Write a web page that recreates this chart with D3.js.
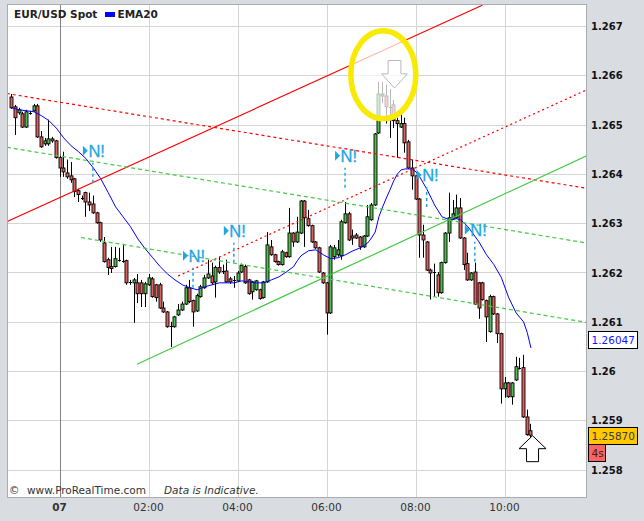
<!DOCTYPE html>
<html><head><meta charset="utf-8">
<script src="https://cdn.jsdelivr.net/npm/d3@7"></script>
<style>body{margin:0;background:#d9dde2}svg{display:block}</style>
</head><body><svg id="c" width="644" height="521"></svg>
<script>
// ---------- DATA ----------
// 5-minute bars, time in minutes relative to 07 00:00 (first bar 22:55 of the previous day)
const firstBarMinute = -65;
const barMinutes = 5;
const open = [1.26556,1.26536,1.26524,1.26522,1.26495,1.26524,1.26528,1.26538,1.26475,1.26461,
1.26461,1.26471,1.26467,1.26433,1.26412,1.26402,1.26396,1.26390,1.26366,1.26351,
1.26362,1.26343,1.26339,1.26321,1.26301,1.26260,1.26226,1.26212,1.26212,1.26226,
1.26224,1.26224,1.26181,1.26179,1.26179,1.26179,1.26157,1.26175,1.26187,1.26175,
1.26175,1.26128,1.26120,1.26092,1.26090,1.26114,1.26124,1.26136,1.26169,1.26143,
1.26122,1.26151,1.26169,1.26189,1.26193,1.26181,1.26210,1.26203,1.26203,1.26187,
1.26185,1.26183,1.26201,1.26212,1.26185,1.26161,1.26165,1.26165,1.26149,1.26181,
1.26252,1.26236,1.26222,1.26216,1.26240,1.26232,1.26280,1.26262,1.26280,1.26345,
1.26309,1.26295,1.26262,1.26250,1.26199,1.26179,1.26118,1.26232,1.26236,1.26234,
1.26301,1.26319,1.26274,1.26276,1.26272,1.26252,1.26274,1.26307,1.26337,1.26483,
1.26558,1.26558,1.26536,1.26540,1.26508,1.26495,1.26502,1.26465,1.26412,1.26396,
1.26349,1.26276,1.26262,1.26205,1.26201,1.26195,1.26159,1.26220,1.26280,1.26309,
1.26311,1.26331,1.26270,1.26218,1.26185,1.26201,1.26179,1.26179,1.26143,1.26080,
1.26151,1.26116,1.26076,1.25964,1.25976,1.25948,1.25982,1.26007,1.26007,1.25907,
1.25879];
const high = [1.26562,1.26540,1.26534,1.26526,1.26530,1.26528,1.26542,1.26542,1.26487,1.26473,
1.26510,1.26475,1.26469,1.26437,1.26445,1.26429,1.26424,1.26392,1.26370,1.26356,
1.26364,1.26362,1.26356,1.26323,1.26303,1.26272,1.26230,1.26252,1.26252,1.26250,
1.26258,1.26226,1.26185,1.26189,1.26197,1.26185,1.26181,1.26197,1.26191,1.26177,
1.26179,1.26141,1.26122,1.26100,1.26112,1.26136,1.26141,1.26175,1.26185,1.26145,
1.26157,1.26175,1.26195,1.26226,1.26220,1.26214,1.26232,1.26216,1.26226,1.26191,
1.26193,1.26203,1.26218,1.26216,1.26187,1.26183,1.26185,1.26167,1.26183,1.26282,
1.26266,1.26238,1.26224,1.26246,1.26242,1.26331,1.26282,1.26313,1.26347,1.26347,
1.26327,1.26297,1.26264,1.26252,1.26201,1.26181,1.26256,1.26256,1.26266,1.26307,
1.26343,1.26323,1.26287,1.26280,1.26274,1.26276,1.26337,1.26341,1.26483,1.26587,
1.26587,1.26581,1.26572,1.26550,1.26514,1.26520,1.26514,1.26469,1.26429,1.26398,
1.26351,1.26297,1.26264,1.26208,1.26218,1.26201,1.26222,1.26282,1.26362,1.26347,
1.26358,1.26351,1.26272,1.26240,1.26201,1.26220,1.26181,1.26181,1.26145,1.26155,
1.26153,1.26118,1.26078,1.25988,1.25978,1.25978,1.26029,1.26027,1.26033,1.25922,
1.25893];
const low = [1.26532,1.26479,1.26520,1.26493,1.26493,1.26520,1.26526,1.26473,1.26453,1.26457,
1.26457,1.26463,1.26431,1.26394,1.26394,1.26390,1.26382,1.26353,1.26343,1.26347,
1.26313,1.26325,1.26319,1.26299,1.26262,1.26220,1.26195,1.26199,1.26210,1.26222,
1.26220,1.26175,1.26175,1.26098,1.26138,1.26130,1.26130,1.26173,1.26149,1.26141,
1.26126,1.26118,1.26088,1.26049,1.26088,1.26112,1.26122,1.26134,1.26138,1.26090,
1.26120,1.26149,1.26167,1.26187,1.26175,1.26149,1.26197,1.26197,1.26179,1.26177,
1.26169,1.26181,1.26199,1.26177,1.26155,1.26145,1.26163,1.26145,1.26147,1.26179,
1.26234,1.26220,1.26214,1.26214,1.26230,1.26230,1.26252,1.26260,1.26278,1.26252,
1.26293,1.26260,1.26248,1.26199,1.26177,1.26074,1.26116,1.26226,1.26232,1.26226,
1.26299,1.26264,1.26256,1.26268,1.26246,1.26250,1.26272,1.26305,1.26335,1.26481,
1.26544,1.26502,1.26473,1.26493,1.26433,1.26493,1.26443,1.26410,1.26368,1.26347,
1.26230,1.26230,1.26203,1.26145,1.26151,1.26151,1.26157,1.26218,1.26262,1.26307,
1.26309,1.26268,1.26205,1.26183,1.26183,1.26134,1.26106,1.26143,1.26059,1.26078,
1.26114,1.26057,1.25934,1.25946,1.25946,1.25932,1.25980,1.26003,1.25905,1.25869,
1.25855];
const close = [1.26534,1.26514,1.26530,1.26495,1.26526,1.26523,1.26538,1.26475,1.26455,1.26467,
1.26471,1.26467,1.26433,1.26412,1.26404,1.26394,1.26388,1.26364,1.26358,1.26349,
1.26343,1.26337,1.26321,1.26301,1.26266,1.26222,1.26210,1.26208,1.26228,1.26224,
1.26222,1.26179,1.26179,1.26185,1.26157,1.26157,1.26177,1.26189,1.26151,1.26149,
1.26128,1.26120,1.26090,1.26091,1.26110,1.26124,1.26136,1.26169,1.26141,1.26120,
1.26153,1.26171,1.26189,1.26197,1.26179,1.26210,1.26201,1.26201,1.26181,1.26181,
1.26183,1.26199,1.26214,1.26179,1.26157,1.26181,1.26183,1.26147,1.26181,1.26256,
1.26236,1.26222,1.26216,1.26242,1.26232,1.26280,1.26262,1.26282,1.26345,1.26311,
1.26295,1.26262,1.26250,1.26201,1.26179,1.26118,1.26252,1.26250,1.26246,1.26303,
1.26319,1.26266,1.26270,1.26270,1.26252,1.26274,1.26313,1.26337,1.26481,1.26562,
1.26562,1.26536,1.26534,1.26508,1.26502,1.26502,1.26463,1.26412,1.26396,1.26349,
1.26276,1.26266,1.26205,1.26199,1.26200,1.26159,1.26220,1.26280,1.26311,1.26319,
1.26331,1.26270,1.26216,1.26185,1.26199,1.26136,1.26128,1.26145,1.26110,1.26151,
1.26116,1.26076,1.25964,1.25976,1.25948,1.25976,1.26009,1.26005,1.25907,1.25871,
1.25870];

// EMA20 at these bar indices
const emaBar = [0,2,6,8,10,12,14,16,18,20,22,24,26,28,30,32,34,36,38,40,42,44,46,48,50,52,54,56,58,60,
62,64,66,68,70,72,74,76,77,78,80,82,84,86,88,90,92,94,96,97,98,99,100,101,102,103,104,105,106,108,
109,110,112,114,116,118,120,121,123,126,128,130,132,134,136,138,139,140];
const emaValue = [1.26534,1.26530,1.26526,1.26518,1.26508,1.26493,1.26473,1.26457,1.26445,1.26431,
1.26412,1.26390,1.26362,1.26333,1.26313,1.26293,1.26268,1.26248,1.26230,1.26212,
1.26197,1.26185,1.26175,1.26169,1.26165,1.26171,1.26175,1.26179,1.26179,1.26179,
1.26183,1.26181,1.26179,1.26179,1.26185,1.26191,1.26201,1.26212,1.26224,1.26234,
1.26244,1.26246,1.26236,1.26228,1.26230,1.26236,1.26244,1.26250,1.26260,1.26270,
1.26282,1.26313,1.26333,1.26351,1.26368,1.26386,1.26400,1.26408,1.26410,1.26410,
1.26404,1.26394,1.26368,1.26337,1.26313,1.26307,1.26309,1.26307,1.26293,1.26262,
1.26236,1.26216,1.26190,1.26149,1.26118,1.26100,1.26078,1.26047];

// Axis ticks
const priceTicks = [1.258,1.259,1.26,1.261,1.262,1.263,1.264,1.265,1.266,1.267];
const priceTickLabels = ["1.258","1.259","1.26","1.261","1.262","1.263","1.264","1.265","1.266","1.267"];
const timeTicks = [0,120,240,360,480,600];
const timeTickLabels = ["07","02:00","04:00","06:00","08:00","10:00"];

// Drawn trend lines (time in minutes, price)
const lineKind   = ["redSolid","redDash","redDash2","greenSolid","greenDash","greenDash"];
const lineT1     = [-71, -71, 160, 104.5, -71, 29];
const lineP1     = [1.26303, 1.26563, 1.26193, 1.26014, 1.26454, 1.26271];
const lineT2     = [570, 710, 710, 710, 710, 710];
const lineP2     = [1.26742, 1.26371, 1.26570, 1.26436, 1.26260, 1.26099];

// "N!" signals (time, price at foot of the dashed marker)
const signalTime  = [45, 180, 235, 385, 495, 560];
const signalPrice = [1.26382, 1.26169, 1.26220, 1.26372, 1.26333, 1.26222];

// Highlight ellipse and arrows
const ellipseTime = 436.6, ellipsePrice = 1.26601;
const downArrowTime = 451.7, downArrowPrice = 1.26574;
const upArrowTime = 637.8, upArrowPrice = 1.25869;

const lastPrice = 1.25870, lastEma = 1.26047, countdown = "4s";

// ---------- DRAW ----------
const W = 644, H = 521;
const L = 7, R = 586, T = 4, B = 497;
const svg = d3.select("#c");
const x = d3.scaleLinear().domain([0, 600]).range([59.5, 504.5]);
const y = d3.scaleLinear().domain([1.258, 1.267]).range([469.7, 26]);
const barT = i => firstBarMinute + i * barMinutes;

svg.append("rect").attr("width", W).attr("height", H).attr("fill", "#d9dde2");
svg.append("rect").attr("x", L + 0.5).attr("y", T + 0.5).attr("width", R - L).attr("height", B - T)
  .attr("fill", "#fff").attr("stroke", "#a9adb2");

svg.append("clipPath").attr("id", "clip").append("rect")
  .attr("x", L + 1).attr("y", T + 1).attr("width", R - L - 1).attr("height", B - T - 1);
const g = svg.append("g").attr("clip-path", "url(#clip)");

// grid
priceTicks.forEach(v => {
  const yy = Math.round(y(v)) + 0.5;
  g.append("line").attr("x1", L).attr("x2", R).attr("y1", yy).attr("y2", yy)
    .attr("stroke", "#d5d5d5").attr("stroke-width", 1);
});
timeTicks.forEach((t, k) => {
  const xx = Math.round(x(t)) + 0.5;
  g.append("line").attr("x1", xx).attr("x2", xx).attr("y1", T).attr("y2", B)
    .attr("stroke", k === 0 ? "#828282" : "#d5d5d5").attr("stroke-width", 1);
});

// candles
const bars = d3.range(open.length);
const cg = g.append("g");
bars.forEach(i => {
  const cx = Math.round(x(barT(i)));
  cg.append("line").attr("x1", cx + 0.5).attr("x2", cx + 0.5)
    .attr("y1", y(high[i])).attr("y2", y(low[i])).attr("stroke", "#000").attr("stroke-width", 1);
  const y1 = y(Math.max(open[i], close[i])), y2 = y(Math.min(open[i], close[i]));
  const up = close[i] >= open[i];
  if (y2 - y1 < 1.5) {
    cg.append("line").attr("x1", cx - 1).attr("x2", cx + 2)
      .attr("y1", Math.round(y1) + 0.5).attr("y2", Math.round(y1) + 0.5).attr("stroke", "#000");
  } else {
    cg.append("rect").attr("x", cx - 1).attr("y", y1).attr("width", 3).attr("height", y2 - y1)
      .attr("fill", up ? "#4fbf4f" : "#e06060").attr("stroke", "#000").attr("stroke-width", 0.9);
  }
});

// EMA
g.append("path")
  .datum(emaBar.map((b, k) => [barT(b), emaValue[k]]))
  .attr("d", d3.line().x(d => x(d[0]) + 0.5).y(d => y(d[1])))
  .attr("fill", "none").attr("stroke", "#0000ff").attr("stroke-width", 1);

// trend lines
const lineStyle = {
  redSolid:  {c: "#ff0000", d: null},
  redDash:   {c: "#ff0000", d: "3,3"},
  redDash2:  {c: "#ff0000", d: "2,3"},
  greenSolid:{c: "#44c944", d: null},
  greenDash: {c: "#44c944", d: "4,3"}
};
lineKind.forEach((k, i) => {
  g.append("line").attr("x1", x(lineT1[i])).attr("y1", y(lineP1[i]))
    .attr("x2", x(lineT2[i])).attr("y2", y(lineP2[i]))
    .attr("stroke", lineStyle[k].c).attr("stroke-width", 1.2)
    .attr("stroke-dasharray", lineStyle[k].d);
});

// N! signals
const cyan = "#22a6e2";
signalTime.forEach((t, i) => {
  const sx = x(t), sy = y(signalPrice[i]);
  g.append("line").attr("x1", sx).attr("x2", sx).attr("y1", sy).attr("y2", sy - 20)
    .attr("stroke", cyan).attr("stroke-width", 1.5).attr("stroke-dasharray", "3,3");
  const ty = sy - 32;
  g.append("path").attr("d", `M${sx - 10},${ty - 5}L${sx - 5},${ty}L${sx - 10},${ty + 5}Z`).attr("fill", cyan);
  g.append("text").attr("x", sx - 4.5).attr("y", ty + 6).text("N!")
    .attr("font-family", "Liberation Sans, Arial, sans-serif").attr("font-size", 16.5)
    .attr("fill", cyan).attr("stroke", cyan).attr("stroke-width", 0.3);
});

// highlight ellipse (fades contents)
const ex = x(ellipseTime), ey = y(ellipsePrice);
g.append("ellipse").attr("cx", ex).attr("cy", ey).attr("rx", 32.5).attr("ry", 44)
  .attr("fill", "rgba(255,255,255,0.72)").attr("stroke", "#f8ea00").attr("stroke-width", 5.5);

// down arrow inside
const dx = x(downArrowTime), dy = y(downArrowPrice);
g.append("path").attr("d",
  `M${dx},${dy}L${dx - 12.8},${dy - 14.3}L${dx - 6.4},${dy - 14.3}L${dx - 6.4},${dy - 27.6}` +
  `L${dx + 6.4},${dy - 27.6}L${dx + 6.4},${dy - 14.3}L${dx + 12.8},${dy - 14.3}Z`)
  .attr("fill", "rgba(255,255,255,0.4)").attr("stroke", "#b9b9b9").attr("stroke-width", 1);

// up arrow
const ux = x(upArrowTime), uy = y(upArrowPrice);
g.append("path").attr("d",
  `M${ux},${uy}L${ux + 13.5},${uy + 13}L${ux + 6},${uy + 13}L${ux + 6},${uy + 26}` +
  `L${ux - 6},${uy + 26}L${ux - 6},${uy + 13}L${ux - 13.5},${uy + 13}Z`)
  .attr("fill", "#fff").attr("stroke", "#000").attr("stroke-width", 1);

// legend
const font = "DejaVu Sans, Verdana, sans-serif";
svg.append("text").attr("x", 14).attr("y", 18).text("EUR/USD Spot")
  .attr("font-family", font).attr("font-weight", "bold").attr("font-size", 10.5).attr("fill", "#222");
svg.append("rect").attr("x", 105).attr("y", 12).attr("width", 10).attr("height", 5).attr("fill", "#0000ff");
svg.append("text").attr("x", 117.5).attr("y", 18).text("EMA20")
  .attr("font-family", font).attr("font-weight", "bold").attr("font-size", 10.5).attr("fill", "#222");

// footer text
svg.append("text").attr("x", 9).attr("y", 494).text("©")
  .attr("font-family", font).attr("font-size", 10.5).attr("fill", "#333");
svg.append("text").attr("x", 27).attr("y", 494).text("www.ProRealTime.com")
  .attr("font-family", font).attr("font-size", 10.5).attr("fill", "#333");
svg.append("text").attr("x", 164).attr("y", 494).text("Data is Indicative.")
  .attr("font-family", font).attr("font-style", "italic").attr("font-size", 10.5).attr("fill", "#333");

// right axis labels
priceTicks.forEach((v, i) => {
  svg.append("text").attr("x", 591).attr("y", y(v) + 4).text(priceTickLabels[i])
    .attr("font-family", font).attr("font-weight", "bold").attr("font-size", 10).attr("fill", "#111");
});
// bottom axis labels
timeTicks.forEach((t, i) => {
  svg.append("text").attr("x", x(t)).attr("y", 511).attr("text-anchor", "middle").text(timeTickLabels[i])
    .attr("font-family", font).attr("font-size", 10.5).attr("font-weight", i === 0 ? "bold" : "normal")
    .attr("fill", "#333");
});

// value boxes
function box(yc, txt, fill, color, w) {
  svg.append("rect").attr("x", 588.5).attr("y", Math.round(yc - 8.5) + 0.5).attr("width", w).attr("height", 17)
    .attr("fill", fill).attr("stroke", "#000");
  svg.append("text").attr("x", 591.5).attr("y", Math.round(yc - 8.5) + 13).text(txt)
    .attr("font-family", font).attr("font-size", 10.5).attr("fill", color);
}
box(y(lastEma) - 8, d3.format(".5f")(lastEma), "#fff", "#1515ff", 49);
box(y(lastPrice), d3.format(".5f")(lastPrice), "#ffc800", "#3a3a3a", 49);
box(y(lastPrice) + 17.5, countdown, "#ff6464", "#3a2020", 17);
</script></body></html>
